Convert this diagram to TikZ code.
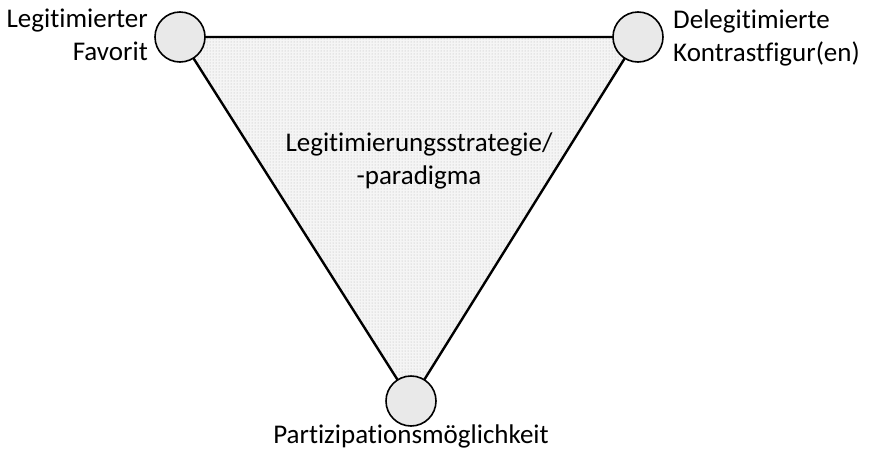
\documentclass[tikz,border=0pt]{standalone}
\usepackage{fontspec}
\setmainfont{Carlito}[Ligatures=NoCommon]
\usetikzlibrary{patterns}
\begin{document}
\begin{tikzpicture}[x=1pt,y=-1pt,
  vertex/.style={circle,draw=black,line width=1.6pt,fill=gray!17,minimum size=50pt,inner sep=0pt},
  lbl/.style={font=\fontsize{27}{32.5}\selectfont,inner sep=0pt,align=#1},
  edge/.style={line width=2.4pt,black}]
\useasboundingbox (0,0) rectangle (869,453);
\coordinate (A) at (180,37);
\coordinate (B) at (638,37);
\coordinate (C) at (411,401);
\fill[gray!8] (A) -- (B) -- (C) -- cycle;
\fill[pattern=dots,pattern color=gray!60] (A) -- (B) -- (C) -- cycle;
\draw[edge] (A) -- (B) -- (C) -- cycle;
\node[vertex] (va) at (A) {};
\node[vertex] (vb) at (B) {};
\node[vertex] (vc) at (C) {};
\node[lbl=right,anchor=base east] (ta) at (148,60) {Legitimierter\\Favorit};
\node[lbl=left,anchor=base west] (tb) at (673,61) {Delegitimierte\\Kontrastfigur(en)};
\node[lbl=center,anchor=base] (tm) at (419,184) {Legitimierungsstrategie/\\-paradigma};
\node[lbl=center,anchor=base] (tc) at (411,443) {Partizipationsmöglichkeit};
\end{tikzpicture}
\end{document}
